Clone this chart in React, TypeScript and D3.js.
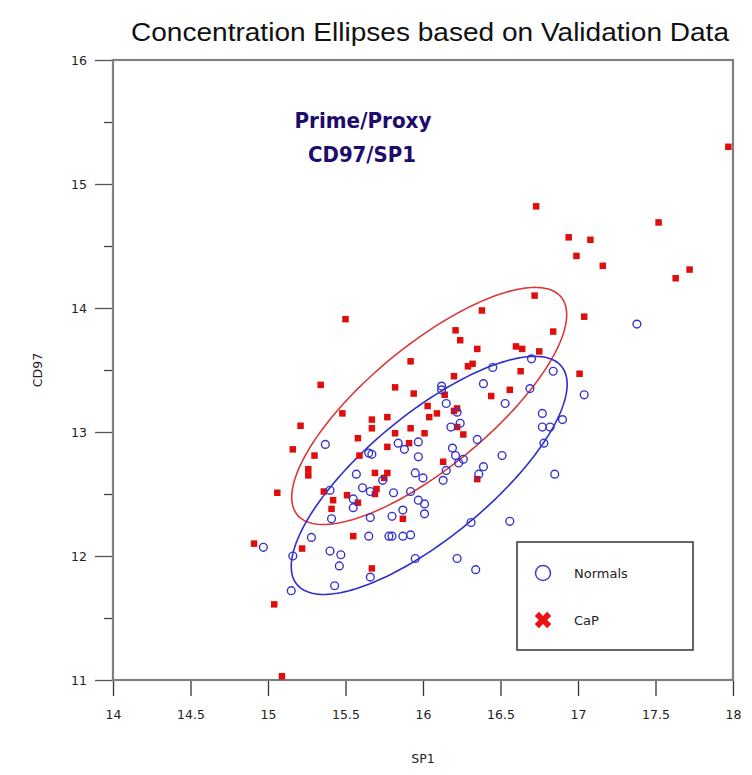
import React, { useEffect, useRef } from "react";
import * as d3 from "d3";

// SP1 / CD97 pairs
const normals: [number, number][] = [
  [15.37, 12.9], [15.84, 12.91], [15.88, 12.86], [15.97, 12.92], [15.65, 12.83],
  [15.67, 12.82], [15.97, 12.8], [15.57, 12.66], [15.95, 12.67], [15.74, 12.61],
  [15.61, 12.55], [15.66, 12.52], [15.81, 12.51], [15.92, 12.52], [15.4, 12.53],
  [15.55, 12.46], [15.55, 12.39], [15.87, 12.37], [15.97, 12.45], [15.41, 12.3],
  [15.66, 12.31], [15.8, 12.32], [15.28, 12.15], [15.65, 12.16], [15.78, 12.16],
  [15.8, 12.16], [15.87, 12.16], [15.92, 12.17], [14.97, 12.07], [15.16, 12.0],
  [15.4, 12.04], [15.47, 12.01], [15.46, 11.92], [15.95, 11.98], [15.66, 11.83],
  [15.15, 11.72], [15.43, 11.76], [16.7, 13.59], [16.45, 13.52], [16.84, 13.49],
  [16.12, 13.37], [16.12, 13.34], [16.39, 13.39], [16.69, 13.35], [16.15, 13.23],
  [16.53, 13.23], [16.22, 13.16], [16.77, 13.15], [16.9, 13.1], [16.82, 13.04],
  [16.77, 13.04], [16.18, 13.04], [16.24, 13.07], [16.35, 12.94], [16.78, 12.91],
  [16.19, 12.87], [16.21, 12.81], [16.23, 12.75], [16.26, 12.78], [16.15, 12.69],
  [16.51, 12.81], [16.39, 12.72], [16.36, 12.66], [16.0, 12.63], [16.13, 12.61],
  [16.85, 12.66], [16.01, 12.42], [16.01, 12.34], [16.31, 12.27], [16.56, 12.28],
  [16.22, 11.98], [16.34, 11.89], [17.38, 13.87], [17.04, 13.3],
];

const cap: [number, number][] = [
  [15.5, 13.91], [15.34, 13.38], [15.92, 13.57], [15.82, 13.36], [15.94, 13.31],
  [15.48, 13.15], [15.21, 13.05], [15.67, 13.1], [15.77, 13.12], [15.67, 13.03],
  [15.92, 13.03], [15.58, 12.95], [15.82, 12.99], [15.77, 12.88], [15.91, 12.91],
  [15.16, 12.86], [15.3, 12.81], [15.59, 12.81], [15.26, 12.7], [15.26, 12.65],
  [15.06, 12.51], [15.36, 12.52], [15.69, 12.67], [15.77, 12.67], [15.75, 12.63],
  [15.7, 12.54], [15.69, 12.5], [15.42, 12.45], [15.51, 12.49], [15.58, 12.43],
  [15.41, 12.38], [15.87, 12.3], [15.55, 12.16], [14.91, 12.1], [15.22, 12.06],
  [15.67, 11.9], [16.38, 13.98], [16.21, 13.82], [16.24, 13.74], [16.35, 13.67],
  [16.84, 13.81], [16.6, 13.69], [16.64, 13.67], [16.75, 13.65], [16.29, 13.53],
  [16.32, 13.55], [16.63, 13.49], [17.01, 13.47], [16.2, 13.45], [16.14, 13.3],
  [16.44, 13.29], [16.56, 13.34], [16.03, 13.21], [16.04, 13.12], [16.09, 13.15],
  [16.2, 13.17], [16.22, 13.19], [16.01, 12.99], [16.22, 13.04], [16.26, 12.98],
  [16.13, 12.76], [16.35, 12.62], [16.73, 14.82], [17.52, 14.69], [16.94, 14.57],
  [17.08, 14.55], [16.99, 14.42], [17.16, 14.34], [17.72, 14.31], [17.63, 14.24],
  [16.72, 14.1], [17.04, 13.93], [17.97, 15.3], [15.04, 11.61], [15.09, 11.03],
];

// concentration ellipses: centre, spreads and correlation
const normalsEllipse = { cx: 16.04, cy: 12.65, sx: 0.89, sy: 0.96, rho: 0.765 };
const capEllipse = { cx: 16.04, cy: 13.21, sx: 0.887, sy: 0.956, rho: 0.77 };

const xTicks = [14, 14.5, 15, 15.5, 16, 16.5, 17, 17.5, 18];
const yTicks = [11, 12, 13, 14, 15, 16];
const yMinorTicks = [11.5, 12.5, 13.5, 14.5, 15.5];
const legendLabels = ["Normals", "CaP"];

const BLUE = "#3535cc";
const RED = "#e00d0d";

const App = () => {
  const ref = useRef<SVGSVGElement>(null);

  useEffect(() => {
    const svg = d3.select(ref.current);
    svg.selectAll("*").remove();

    const left = 113, right = 733, top = 60, bottom = 680;
    const x = d3.scaleLinear().domain([14, 18]).range([left, right]);
    const y = d3.scaleLinear().domain([11, 16]).range([bottom, top]);

    svg.append("text")
      .attr("x", 430).attr("y", 41)
      .attr("text-anchor", "middle")
      .attr("font-family", "Liberation Sans Narrow, Liberation Sans, Arial, sans-serif")
      .attr("font-size", 26)
      .attr("textLength", 598)
      .attr("lengthAdjust", "spacingAndGlyphs")
      .attr("fill", "#111")
      .text("Concentration Ellipses based on Validation Data");

    // x axis
    const xAxis = svg.append("g")
      .attr("transform", `translate(0,${bottom})`)
      .call(d3.axisBottom(x).tickValues(xTicks).tickSize(16).tickPadding(14).tickFormat((d) => String(d)));
    xAxis.select(".domain").remove();
    xAxis.selectAll("line").attr("stroke", "#333").attr("stroke-width", 1.3);
    xAxis.selectAll("text")
      .attr("font-family", "DejaVu Sans, sans-serif")
      .attr("font-size", 12.5)
      .attr("fill", "#222");

    // y axis
    const yAxis = svg.append("g")
      .attr("transform", `translate(${left},0)`)
      .call(d3.axisLeft(y).tickValues(yTicks).tickSize(18).tickPadding(8).tickFormat((d) => String(d)));
    yAxis.select(".domain").remove();
    yAxis.selectAll("line").attr("stroke", "#555").attr("stroke-width", 1.3);
    yAxis.selectAll("text")
      .attr("font-family", "DejaVu Sans, sans-serif")
      .attr("font-size", 12.5)
      .attr("fill", "#222");

    const yMinor = svg.append("g")
      .attr("transform", `translate(${left},0)`)
      .call(d3.axisLeft(y).tickValues(yMinorTicks).tickSize(9).tickFormat(() => ""));
    yMinor.select(".domain").remove();
    yMinor.selectAll("line").attr("stroke", "#444").attr("stroke-width", 1.3);

    // frame
    svg.append("rect")
      .attr("x", left).attr("y", top)
      .attr("width", right - left).attr("height", bottom - top)
      .attr("fill", "none")
      .attr("stroke", "#808080")
      .attr("stroke-width", 2.2);

    svg.append("text")
      .attr("transform", `translate(42,${(top + bottom) / 2}) rotate(-90)`)
      .attr("text-anchor", "middle")
      .attr("font-family", "DejaVu Sans, sans-serif")
      .attr("font-size", 12.5)
      .attr("fill", "#222")
      .text("CD97");

    svg.append("text")
      .attr("x", 423).attr("y", 763)
      .attr("text-anchor", "middle")
      .attr("font-family", "DejaVu Sans, sans-serif")
      .attr("font-size", 12.5)
      .attr("fill", "#222")
      .text("SP1");

    const note = svg.append("g")
      .attr("font-family", "DejaVu Sans Condensed, DejaVu Sans, sans-serif")
      .attr("font-weight", "bold")
      .attr("font-size", 21)
      .attr("fill", "#1e0b6e")
      .attr("text-anchor", "middle");
    note.append("text").attr("x", 363).attr("y", 128)
      .attr("textLength", 137).attr("lengthAdjust", "spacingAndGlyphs")
      .text("Prime/Proxy");
    note.append("text").attr("x", 362).attr("y", 162)
      .attr("textLength", 108).attr("lengthAdjust", "spacingAndGlyphs")
      .text("CD97/SP1");

    // ellipses
    const ellipsePoints = (e: typeof capEllipse) =>
      d3.range(0, 361, 2).map((deg) => {
        const t = (deg * Math.PI) / 180;
        const ex = e.cx + e.sx * Math.cos(t);
        const ey = e.cy + e.sy * (e.rho * Math.cos(t) + Math.sqrt(1 - e.rho * e.rho) * Math.sin(t));
        return [ex, ey] as [number, number];
      });
    const line = d3.line<[number, number]>().x((d) => x(d[0])).y((d) => y(d[1])).curve(d3.curveLinearClosed);

    svg.append("path")
      .attr("d", line(ellipsePoints(capEllipse)))
      .attr("fill", "none").attr("stroke", "#d83a3a").attr("stroke-width", 1.6);
    svg.append("path")
      .attr("d", line(ellipsePoints(normalsEllipse)))
      .attr("fill", "none").attr("stroke", "#2e2ecc").attr("stroke-width", 1.6);

    // points
    svg.append("g").selectAll("rect").data(cap).join("rect")
      .attr("x", (d) => x(d[0]) - 3.25).attr("y", (d) => y(d[1]) - 3.25)
      .attr("width", 6.5).attr("height", 6.5)
      .attr("fill", RED);

    svg.append("g").selectAll("circle").data(normals).join("circle")
      .attr("cx", (d) => x(d[0])).attr("cy", (d) => y(d[1]))
      .attr("r", 3.9)
      .attr("fill", "none")
      .attr("stroke", BLUE)
      .attr("stroke-width", 1.4);

    // legend
    const lg = svg.append("g").attr("transform", "translate(517,542)");
    lg.append("rect").attr("width", 176).attr("height", 108)
      .attr("fill", "#fff").attr("stroke", "#333").attr("stroke-width", 1.5);
    lg.append("circle").attr("cx", 26).attr("cy", 31).attr("r", 7.5)
      .attr("fill", "none").attr("stroke", "#4040cc").attr("stroke-width", 1.5);
    lg.append("path")
      .attr("d", d3.symbol().type(d3.symbolCross).size(170)())
      .attr("transform", "translate(26,78) rotate(45)")
      .attr("fill", "#ee1111");
    lg.selectAll("text.lbl").data(legendLabels).join("text")
      .attr("class", "lbl")
      .attr("x", 57).attr("y", (_, i) => 36 + i * 47)
      .attr("font-family", "DejaVu Sans, sans-serif")
      .attr("font-size", 13)
      .attr("fill", "#222")
      .text((d) => d);
  }, []);

  return (
    <svg
      ref={ref}
      width={752}
      height={775}
      style={{ position: "absolute", left: 0, top: 0, background: "#fff" }}
    />
  );
};

export default App;
